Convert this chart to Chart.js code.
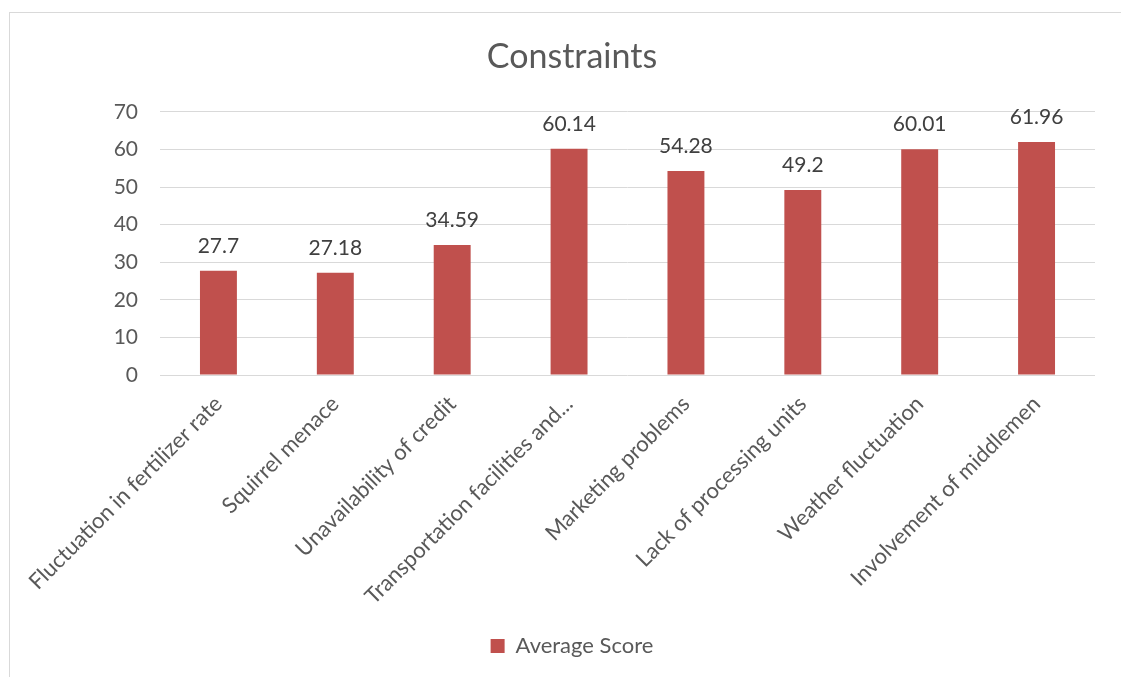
<!DOCTYPE html>
<html>
<head>
<meta charset="utf-8">
<title>Constraints</title>
<script src="https://cdn.jsdelivr.net/npm/chart.js@4/dist/chart.umd.min.js"></script>
<style>
    html, body { margin: 0; padding: 0; background: #fff; overflow: hidden; }
    .frame {
        position: absolute;
        left: 9px;
        top: 12px;
        width: 1130px;
        height: 680px;
        border-left: 1px solid #d9d9d9;
        border-top: 1px solid #d9d9d9;
    }
    #constraintsChart { display: block; }
</style>
</head>
<body>
<div class="frame">
    <canvas id="constraintsChart" width="1124" height="664"></canvas>
</div>
<script>
/*------Data-----*/
const categories = [
    'Fluctuation in fertilizer rate',
    'Squirrel menace',
    'Unavailability of credit',
    'Transportation facilities and...',
    'Marketing problems',
    'Lack of processing units',
    'Weather fluctuation',
    'Involvement of middlemen'
];
const averageScore = [27.7, 27.18, 34.59, 60.14, 54.28, 49.2, 60.01, 61.96];
const yTicks = [0, 10, 20, 30, 40, 50, 60, 70];

Chart.defaults.font.family = 'Lato';
Chart.defaults.color = '#595959';

/*------Value labels over the bars-----*/
const valueLabels = {
    id: 'valueLabels',
    afterDatasetsDraw(chart) {
        const c = chart.ctx;
        const meta = chart.getDatasetMeta(0);
        c.save();
        c.font = '21px Lato';
        c.fillStyle = '#404040';
        c.textAlign = 'center';
        c.textBaseline = 'middle';
        meta.data.forEach(function (bar, i) {
            c.fillText(String(chart.data.datasets[0].data[i]), bar.x, bar.y - 25);
        });
        c.restore();
    }
};

/*------Bar chart-----*/
const ctx = document.getElementById('constraintsChart').getContext('2d');
const constraintsChart = new Chart(ctx, {
    type: 'bar',
    data: {
        labels: categories,
        datasets: [{
            label: 'Average Score',
            data: averageScore,
            backgroundColor: '#c0504d',
            borderWidth: 0,
            categoryPercentage: 1,
            barPercentage: 0.316
        }]
    },
    options: {
        responsive: false,
        animation: false,
        devicePixelRatio: 1,
        layout: {
            padding: { left: 0, right: 0, top: 0, bottom: 10 }
        },
        plugins: {
            title: {
                display: true,
                text: 'Constraints',
                color: '#595959',
                font: { size: 34, weight: 'normal' },
                padding: { top: 24, bottom: 34 }
            },
            legend: {
                position: 'bottom',
                labels: {
                    boxWidth: 14,
                    boxHeight: 14,
                    color: '#595959',
                    font: { size: 22 }
                }
            },
            tooltip: { enabled: false }
        },
        scales: {
            x: {
                grid: { display: false, drawTicks: false },
                border: { display: false },
                ticks: {
                    autoSkip: false,
                    minRotation: 45,
                    maxRotation: 45,
                    padding: 16,
                    color: '#595959',
                    font: { size: 22 }
                },
                afterFit: function (scale) {
                    // long rotated labels may run into the left margin
                    scale.height = 250;
                    scale.paddingLeft = 0;
                    scale.paddingRight = 0;
                }
            },
            y: {
                min: 0,
                max: 70,
                afterBuildTicks: function (scale) {
                    scale.ticks = yTicks.map(function (v) { return { value: v }; });
                },
                grid: { color: '#d9d9d9', lineWidth: 1, drawTicks: false },
                border: { display: false },
                ticks: {
                    padding: 22,
                    color: '#595959',
                    font: { size: 21 }
                },
                afterFit: function (scale) { scale.width = 150; }
            },
            // empty margin on the right of the plot
            yRight: {
                position: 'right',
                grid: { display: false, drawTicks: false },
                border: { display: false },
                ticks: { display: false },
                afterFit: function (scale) { scale.width = 39; }
            }
        }
    },
    plugins: [valueLabels]
});
</script>
</body>
</html>
